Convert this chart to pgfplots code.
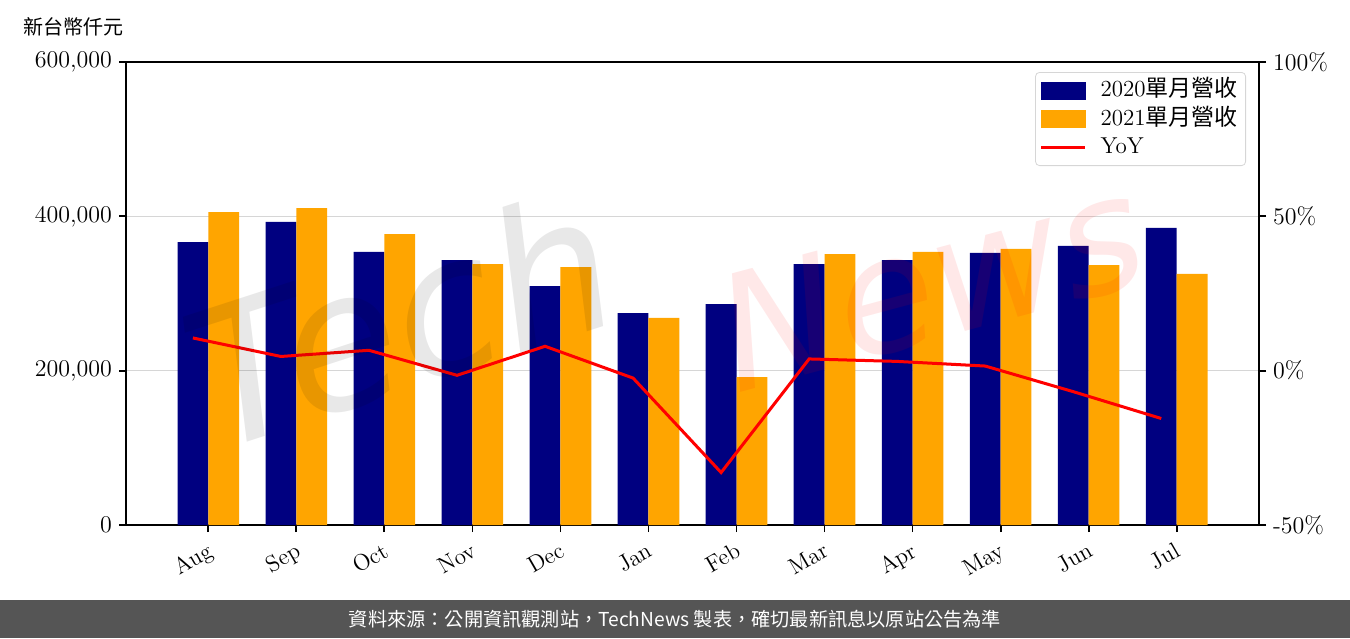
\documentclass[border=0pt]{standalone}
\usepackage{fontspec}
\usepackage{pgfplots}
\pgfplotsset{compat=1.18}
\newfontfamily\cjk{Noto Sans CJK TC}
\newfontfamily\wm{DejaVu Sans}
\definecolor{navyc}{HTML}{000080}
\definecolor{orangec}{HTML}{FFA500}
\definecolor{gridc}{HTML}{D6D6D6}
\definecolor{footc}{HTML}{555555}
\begin{document}
\begin{tikzpicture}[x=1pt,y=1pt]
\path[use as bounding box] (0,0) rectangle (675,319);
\fill[footc] (0,0) rectangle (675,19);
\node[white, font=\cjk\fontsize{9.6}{11}\selectfont] at (337.5,9.5) {資料來源：公開資訊觀測站，TechNews 製表，確切最新訊息以原站公告為準};
\node[anchor=west, font=\cjk\fontsize{10}{12}\selectfont] at (8,305.5) {新台幣仟元};
\begin{axis}[
  at={(63pt,56.5pt)}, anchor=south west, scale only axis,
  width=566.5pt, height=231.5pt,
  xmin=-0.935, xmax=11.935, ymin=0, ymax=600000,
  ytick pos=left, xtick pos=lower,
  tick align=outside, major tick length=3.5pt,
  ytick={0,200000,400000,600000},
  yticklabels={0,{200,000},{400,000},{600,000}},
  scaled y ticks=false,
  xtick={0,...,11},
  xticklabels={Aug,Sep,Oct,Nov,Dec,Jan,Feb,Mar,Apr,May,Jun,Jul},
  xticklabel style={rotate=30, anchor=north east, font=\fontsize{11.5}{13}\selectfont},
  yticklabel style={font=\fontsize{12}{14}\selectfont},
  ymajorgrids, grid style={gridc, line width=0.75pt},
  axis line style={line width=0.9pt}, tick style={black, line width=0.9pt},
  legend style={at={(1,1)}, anchor=north east, xshift=-6.5pt, yshift=-5pt,
    draw=gridc, rounded corners=2pt, font=\fontsize{11.5}{13}\selectfont,
    row sep=0pt, column sep=5pt, inner sep=2pt,
    nodes={text height=8.5pt, text depth=2.5pt, inner ysep=1.6pt}},
  legend cell align=left,
]
\addplot[ybar, bar width=0.35, bar shift=-0.175, fill=navyc, draw=none, forget plot] coordinates {
(0,366700) (1,392700) (2,353800) (3,343400) (4,309700) (5,274700)
(6,286400) (7,338200) (8,343400) (9,352500) (10,361600) (11,384900)};
\addplot[ybar, bar width=0.35, bar shift=0.175, fill=orangec, draw=none, forget plot] coordinates {
(0,405600) (1,410800) (2,377100) (3,338200) (4,334300) (5,268300)
(6,191800) (7,351200) (8,353800) (9,357700) (10,336900) (11,325300)};
\addlegendimage{legend image code/.code={\fill[navyc, sharp corners] (0pt,-4.25pt) rectangle (22pt,4.25pt);}}
\addlegendentry{2020{\cjk 單月營收}}
\addlegendimage{legend image code/.code={\fill[orangec, sharp corners] (0pt,-4.25pt) rectangle (22pt,4.25pt);}}
\addlegendentry{2021{\cjk 單月營收}}
\addlegendimage{legend image code/.code={\draw[red, line width=1.5pt, sharp corners] (0pt,0pt) -- (22pt,0pt);}}
\addlegendentry{YoY}
\end{axis}
\begin{axis}[
  at={(63pt,56.5pt)}, anchor=south west, scale only axis,
  width=566.5pt, height=231.5pt,
  xmin=-0.935, xmax=11.935, ymin=-50, ymax=100,
  hide x axis, axis y line*=right,
  tick align=outside, major tick length=3.5pt,
  ytick={-50,0,50,100},
  yticklabels={-50\%,0\%,50\%,100\%},
  yticklabel style={font=\fontsize{12}{14}\selectfont},
  axis line style={line width=0.9pt}, tick style={black, line width=0.9pt},
]
\addplot[red, line width=1.5pt] coordinates {
(-0.175,10.6) (0.825,4.6) (1.825,6.6) (2.825,-1.5) (3.825,7.9) (4.825,-2.4)
(5.825,-33.0) (6.825,3.8) (7.825,3.0) (8.825,1.5) (9.825,-6.8) (10.825,-15.5)};
\end{axis}
\node[rotate=18, opacity=0.09, inner sep=0pt, font=\wm\itshape\fontsize{95}{95}\selectfont, text=black] at (200,160) {Tech};
\node[rotate=15, opacity=0.09, inner sep=0pt, font=\wm\itshape\fontsize{80}{80}\selectfont, text=red] at (465,178) {News};
\end{tikzpicture}
\end{document}
